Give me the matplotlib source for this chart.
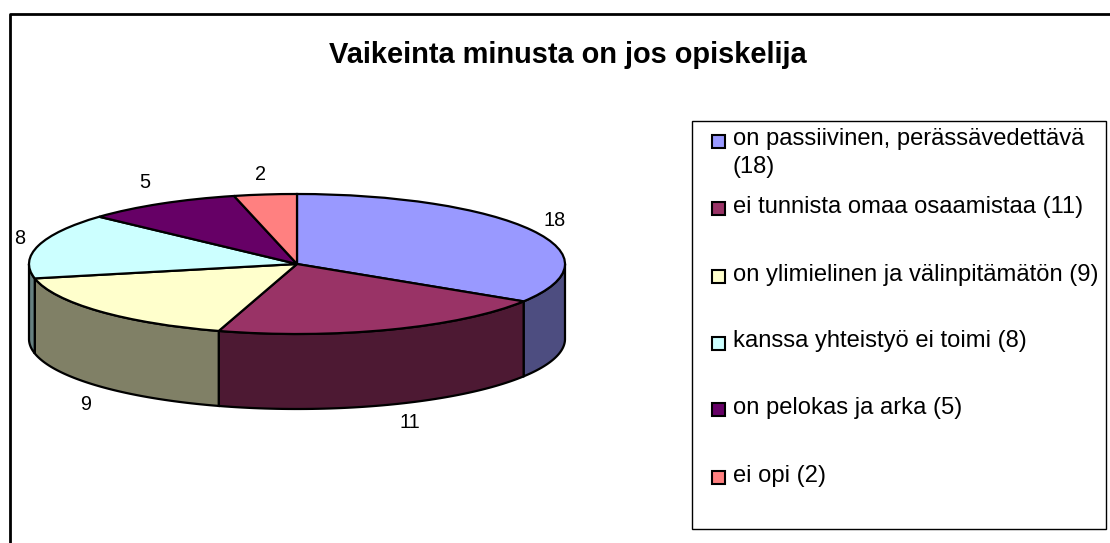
#!/usr/bin/python
import numpy as np
import matplotlib as mpl
mpl.use('Agg')
import matplotlib.pyplot as plt
from matplotlib.patches import Rectangle, Polygon

plt.rcParams['font.family'] = ['Liberation Sans', 'DejaVu Sans']

title = "Vaikeinta minusta on jos opiskelija"
values = [18, 11, 9, 8, 5, 2]
legend_labels = ["on passiivinen, perässävedettävä\n(18)",
                 "ei tunnista omaa osaamistaa (11)",
                 "on ylimielinen ja välinpitämätön (9)",
                 "kanssa yhteistyö ei toimi (8)",
                 "on pelokas ja arka (5)",
                 "ei opi (2)"]
colors = ['#9999ff', '#993366', '#ffffcc', '#ccffff', '#660066', '#ff8080']
side_colors = ['#4d4d80', '#4d1933', '#808066', '#668080', '#330033', '#804040']

W, H = 1110, 543
cx, cy, rx, ry, depth = 297, 264, 268, 70, 75

fig = plt.figure(figsize=(W / 100, H / 100), dpi=100)

# full figure axes in pixel coordinates for frame, title and legend
bg = fig.add_axes([0, 0, 1, 1])
bg.set_xlim(0, W)
bg.set_ylim(H, 0)
bg.axis('off')

# pie axes, squashed so that the unit circle comes out as the top ellipse
ax = fig.add_axes([0, 0, 1, 1])
wedges, _ = ax.pie(values, colors=colors, startangle=90, counterclock=False,
                   radius=1, wedgeprops=dict(edgecolor='black', linewidth=1.6))
ax.set_aspect('auto')
ax.set_xlim(-cx / rx, (W - cx) / rx)
ax.set_ylim((cy - H) / ry, cy / ry)
ax.patch.set_alpha(0)

# side wall of the visible (front) part of the disc
drop = depth / ry
edges = np.cumsum([0] + values) / sum(values) * 360
for i in range(len(values)):
    a = max(edges[i], 90)
    b = min(edges[i + 1], 270)
    if b <= a:
        continue
    t = np.radians(np.linspace(a, b, 60))
    x = np.sin(t)
    y = np.cos(t)
    pts = np.vstack([np.c_[x, y], np.c_[x, y - drop][::-1]])
    ax.add_patch(Polygon(pts, closed=True, facecolor=side_colors[i],
                         edgecolor='black', linewidth=1.6, zorder=0.5))

# value labels around the pie
label_xy = [(555, 220), (410, 423), (86, 404), (20, 239), (145, 183), (260, 175)]
for v, (lx, ly) in zip(values, label_xy):
    bg.text(lx, ly, str(v), fontsize=14.3, ha='center', va='center', color='black')

# outer frame
bg.plot([9.5, 9.5, W], [H, 13.5, 13.5], color='black', lw=2, clip_on=False)

bg.text(568, 55, title, fontsize=20.9, fontweight='bold', ha='center', va='center')

# legend
bg.add_patch(Rectangle((692, 121), 414, 408, facecolor='white', edgecolor='black', linewidth=1))
legend_y = [141, 208.5, 276.5, 343, 409.5, 477.5]
for lab, c, ly in zip(legend_labels, colors, legend_y):
    bg.add_patch(Rectangle((712, ly - 6.5), 13, 13, facecolor=c, edgecolor='black', linewidth=1.5))
    bg.text(733, ly - 12.5, lab, fontsize=17.1, ha='left', va='top', linespacing=1.3)

fig.savefig("out.png", dpi=100)
